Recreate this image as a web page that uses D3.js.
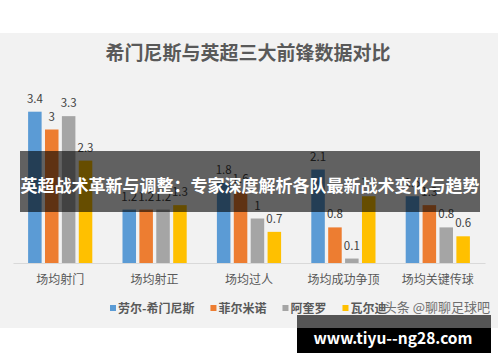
<!DOCTYPE html>
<html>
<head>
<meta charset="utf-8">
<script src="https://cdn.jsdelivr.net/npm/d3@7"></script>
<style>
	html, body { margin: 0; padding: 0; background: #ffffff; }
	svg { display: block; }
	text { font-family: 'Noto Sans CJK SC', 'Liberation Sans', sans-serif; }
</style>
</head>
<body>
<svg id="chart" width="500" height="362"></svg>
<script>
'use strict'

var title = '希门尼斯与英超三大前锋数据对比';
var categories = ['场均射门', '场均射正', '场均过人', '场均成功争顶', '场均关键传球'];
var players = ['劳尔-希门尼斯', '菲尔米诺', '阿奎罗', '瓦尔迪'];
var jimenez = [3.4, 1.2, 1.8, 2.1, 1.5];
var firmino = [3, 1.2, 1.6, 0.8, 1.3];
var aguero = [3.3, 1.2, 1, 0.1, 0.8];
var vardy = [2.3, 1.3, 0.7, 1.5, 0.6];
var colors = ['#5b9bd5', '#ed7d31', '#a5a5a5', '#ffc000'];
var banner = '英超战术革新与调整：专家深度解析各队最新战术变化与趋势';
var watermark = '头条 @聊聊足球吧';
var site = 'www.tiyu--ng28.com';

var series = [jimenez, firmino, aguero, vardy];

var svg = d3.select('#chart');

// chart background
svg.append('rect')
	.attr('x', 0).attr('y', 33)
	.attr('width', 498).attr('height', 295)
	.attr('fill', '#f2f2f2');

svg.append('text')
	.attr('x', 248).attr('y', 60)
	.attr('text-anchor', 'middle')
	.attr('font-size', 19)
	.attr('font-weight', 600)
	.attr('fill', '#595959')
	.text(title);

var x0 = d3.scaleBand()
	.domain(categories)
	.range([13, 485])
	.paddingInner(0.32)
	.paddingOuter(0.16);

var x1 = d3.scaleBand()
	.domain(players)
	.range([0, x0.bandwidth()])
	.paddingInner(0.2);

var y = d3.scaleLinear()
	.domain([0, 4])
	.range([263, 85]);

var groups = svg.append('g')
	.selectAll('g')
	.data(categories)
	.enter()
	.append('g')
	.attr('transform', function(d){ return `translate(${x0(d)},0)`; });

groups.selectAll('rect')
	.data(function(d, i){ return players.map(function(p, j){ return { player: p, value: series[j][i] }; }); })
	.enter()
	.append('rect')
	.attr('x', function(d){ return x1(d.player); })
	.attr('y', function(d){ return y(d.value); })
	.attr('width', x1.bandwidth())
	.attr('height', function(d){ return y(0) - y(d.value); })
	.attr('fill', function(d, j){ return colors[j]; });

groups.selectAll('text')
	.data(function(d, i){ return players.map(function(p, j){ return { player: p, value: series[j][i] }; }); })
	.enter()
	.append('text')
	.attr('x', function(d){ return x1(d.player) + x1.bandwidth()/2; })
	.attr('y', function(d){ return y(d.value) - 9; })
	.attr('text-anchor', 'middle')
	.attr('font-family', 'Liberation Sans, sans-serif')
	.attr('font-size', 11.5)
	.attr('fill', '#404040')
	.text(function(d){ return d.value; });

// axis
var axis = svg.append('g')
	.attr('transform', `translate(0,${y(0)})`)
	.call(d3.axisBottom(x0).tickSize(0).tickPadding(12));
axis.select('.domain').attr('stroke', '#d9d9d9');
axis.selectAll('text')
	.attr('font-size', 12)
	.attr('fill', '#595959')
	.style('font-family', "'Noto Sans CJK SC', sans-serif");

// legend
var legend = svg.append('g').attr('transform', 'translate(110,308)');
var lx = 0;
players.forEach(function(p, j){
	var item = legend.append('g').attr('transform', `translate(${lx},0)`);
	item.append('rect')
		.attr('x', 0).attr('y', -3)
		.attr('width', 6).attr('height', 6)
		.attr('fill', colors[j]);
	var t = item.append('text')
		.attr('x', 8).attr('y', 4.5)
		.attr('font-size', 12)
		.attr('font-weight', 'bold')
		.attr('fill', '#595959')
		.text(p);
	lx += 8 + t.node().getComputedTextLength() + 16;
});

svg.append('text')
	.attr('x', 490).attr('y', 312)
	.attr('text-anchor', 'end')
	.attr('font-size', 13)
	.attr('fill', '#6f6f6f')
	.text(watermark);

// banner overlay
svg.append('rect')
	.attr('x', 20).attr('y', 151)
	.attr('width', 460).attr('height', 61)
	.attr('fill', '#000000')
	.attr('fill-opacity', 0.6);

svg.append('text')
	.attr('x', 250).attr('y', 192)
	.attr('text-anchor', 'middle')
	.attr('font-size', 17)
	.attr('font-weight', 'bold')
	.attr('fill', '#ffffff')
	.text(banner);

// site box
svg.append('rect')
	.attr('x', 297).attr('y', 315)
	.attr('width', 194).attr('height', 13)
	.attr('fill', '#000000')
	.attr('fill-opacity', 0.65);
svg.append('rect')
	.attr('x', 297).attr('y', 328)
	.attr('width', 194).attr('height', 25)
	.attr('fill', '#000000');

svg.append('text')
	.attr('x', 393).attr('y', 344)
	.attr('text-anchor', 'middle')
	.attr('font-family', 'DejaVu Sans, sans-serif')
	.attr('font-size', 15.5)
	.attr('font-weight', 'bold')
	.attr('fill', '#ffffff')
	.text(site);
</script>
</body>
</html>
